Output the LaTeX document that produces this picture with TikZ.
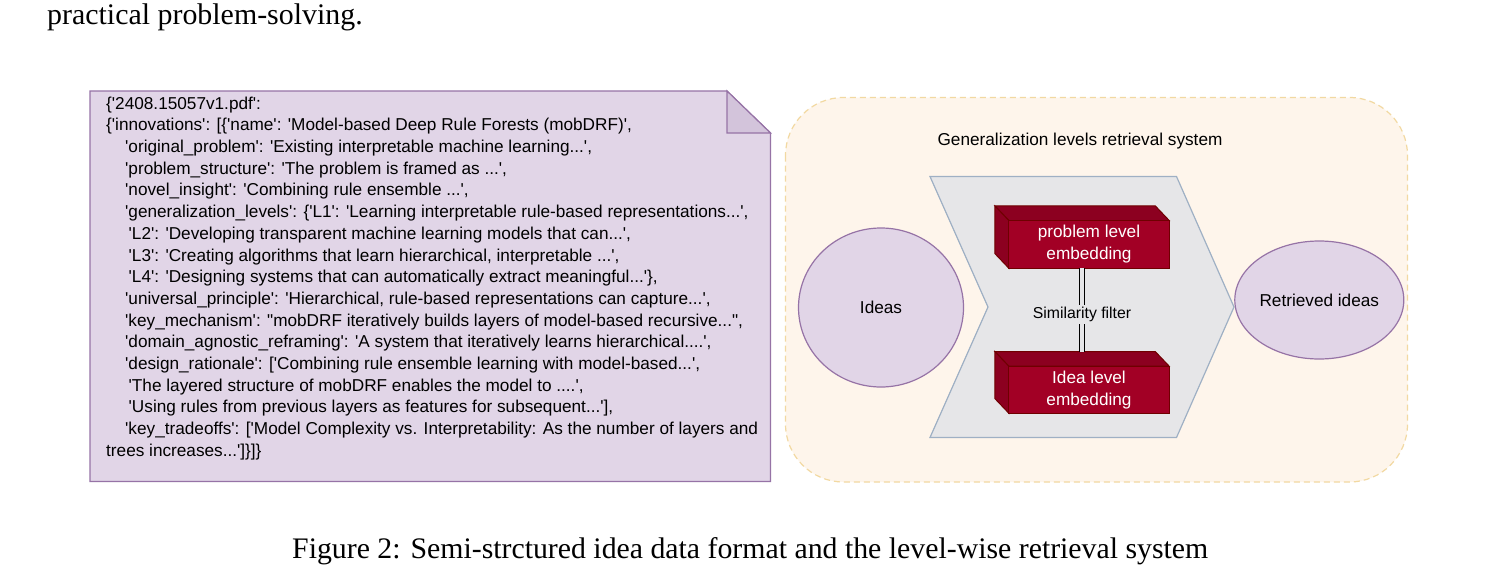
\documentclass[tikz,border=0pt]{standalone}
\usepackage{fontspec}
\newfontfamily\arialf{Liberation Sans}
\newfontfamily\timesf{Liberation Serif}
\usetikzlibrary{calc,shapes.geometric}
\definecolor{docfill}{HTML}{E1D5E7}
\definecolor{docline}{HTML}{9673A6}
\definecolor{foldfill}{HTML}{D3C4DB}
\definecolor{contfill}{HTML}{FEF5EB}
\definecolor{contline}{HTML}{F2D9A2}
\definecolor{chevfill}{HTML}{E6E6E8}
\definecolor{chevline}{HTML}{9FB0C4}
\definecolor{redfront}{HTML}{A20025}
\definecolor{redside}{HTML}{8C0020}
\definecolor{redline}{HTML}{6F0000}
\tikzset{
  docshape/.style={fill=docfill, draw=docline, line width=1.2pt},
  idea/.style={ellipse, fill=docfill, draw=docline, line width=1.2pt, inner sep=0pt, font=\arialf\fontsize{17.2}{20}\selectfont},
  cube/.style={minimum width=174pt, inner sep=0pt},
  redface/.style={fill=redfront, draw=redline, line width=1pt},
  redsideface/.style={fill=redside, draw=redline, line width=1pt},
  cubetext/.style={text=white, align=center, inner sep=0pt, font=\arialf\fontsize{17.2}{22}\selectfont},
  label/.style={font=\arialf\fontsize{17.2}{20}\selectfont, inner sep=0pt},
  doctext/.style={anchor=north west, inner sep=0pt, align=left, font=\arialf\fontsize{17.2}{21.7}\selectfont},
}
\begin{document}
\begin{tikzpicture}[x=1pt,y=-1pt]
\useasboundingbox (0,0) rectangle (1499,573);
\fill[white] (0,0) rectangle (1499,573);
% top text
\node[anchor=base west, inner sep=0pt, font=\timesf\fontsize{29.9}{30}\selectfont] (prev) at (47,24) {practical problem-solving.};
% document shape
\draw[docshape] (90,91) -- (727,91) -- (770.5,133) -- (770.5,481.5) -- (90,481.5) -- cycle;
\draw[docshape, fill=foldfill] (727,91) -- (727,133) -- (770.5,133) -- cycle;
\node[doctext] (doc) at (106,96.5) {%
\{'2408.15057v1.pdf':\\
\{'innovations': [\{'name': 'Model-based Deep Rule Forests (mobDRF)',\\
\hspace*{19pt}'original\_problem': 'Existing interpretable machine learning...',\\
\hspace*{19pt}'problem\_structure': 'The problem is framed as ...',\\
\hspace*{19pt}'novel\_insight': 'Combining rule ensemble ...',\\
\hspace*{19pt}'generalization\_levels': \{'L1': 'Learning interpretable rule-based representations...',\\
\hspace*{22.5pt}'L2': 'Developing transparent machine learning models that can...',\\
\hspace*{22.5pt}'L3': 'Creating algorithms that learn hierarchical, interpretable ...',\\
\hspace*{22.5pt}'L4': 'Designing systems that can automatically extract meaningful...'\},\\
\hspace*{19pt}'universal\_principle': 'Hierarchical, rule-based representations can capture...',\\
\hspace*{19pt}'key\_mechanism': "mobDRF iteratively builds layers of model-based recursive...",\\
\hspace*{19pt}'domain\_agnostic\_reframing': 'A system that iteratively learns hierarchical....',\\
\hspace*{19pt}'design\_rationale': ['Combining rule ensemble learning with model-based...',\\
\hspace*{22.5pt}'The layered structure of mobDRF enables the model to ....',\\
\hspace*{22.5pt}'Using rules from previous layers as features for subsequent...'],\\
\hspace*{19pt}'key\_tradeoffs': ['Model Complexity vs. Interpretability: As the number of layers and\\
trees increases...']\}]\}};
% container
\draw[fill=contfill, draw=contline, line width=1.2pt, dash pattern=on 6pt off 4pt, rounded corners=58pt] (785.5,97.5) rectangle (1407.5,482);
\node[label] (title) at (1080,141) {Generalization levels retrieval system};
% chevron
\draw[fill=chevfill, draw=chevline, line width=1.2pt] (930,176.5) -- (1176.5,176.5) -- (1234,307) -- (1176.5,437.5) -- (930,437.5) -- (988,307) -- cycle;
% ellipses
\node[idea, minimum width=165pt, minimum height=159pt] (ideas) at (881,307.5) {Ideas};
\node[idea, minimum width=160pt, minimum height=118pt] (ret) at (1319.3,300) {Retrieved ideas};
% cubes
\node[cube, minimum height=62pt] (pbox) at (1082,237) {};
\node[cube, minimum height=61.3pt] (ibox) at (1082,382.35) {};
\foreach \b in {pbox,ibox}{
  \draw[redsideface] (\b.north west) -- ($(\b.north east)+(-14,0)$) -- ($(\b.north east)+(0,14.7)$) -- ($(\b.north west)+(14,14.7)$) -- cycle;
  \draw[redsideface] (\b.north west) -- ($(\b.north west)+(14,14.7)$) -- ($(\b.south west)+(14,0)$) -- ($(\b.south west)+(0,-14.7)$) -- cycle;
  \draw[redface] ($(\b.north west)+(14,14.7)$) rectangle (\b.south east);
}
\node[cubetext] (ptext) at ($(pbox.center)+(7,7.35)$) {problem level\\embedding};
\node[cubetext] (itext) at ($(ibox.center)+(7,7.35)$) {Idea level\\embedding};
% similarity edge
\draw[line width=1.2pt, double=chevfill, double distance=3.5pt] (pbox.south) -- node[pos=0.56, fill=chevfill, inner xsep=1pt, inner ysep=2pt, font=\arialf\fontsize{15.8}{18}\selectfont] (sim) {Similarity filter} (ibox.north);
% caption
\node[anchor=base west, inner sep=0pt, font=\timesf\fontsize{29.8}{30}\selectfont] (cap) at (292,558) {Figure 2: Semi-strctured idea data format and the level-wise retrieval system};
\end{tikzpicture}
\end{document}
